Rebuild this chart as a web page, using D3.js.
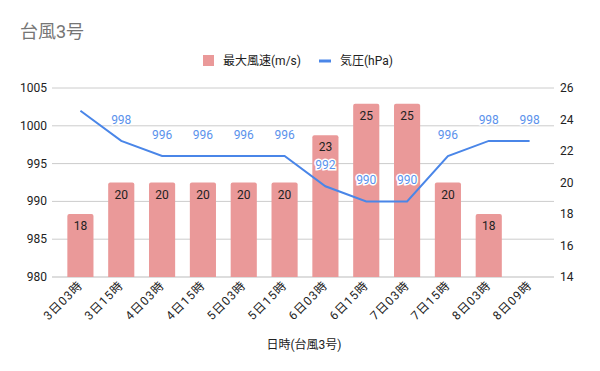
<!DOCTYPE html>
<html>
<head>
<meta charset="utf-8">
<script src="https://cdn.jsdelivr.net/npm/d3@7"></script>
<style>
body { margin: 0; background: #fff; }
text { font-family: Roboto, "Noto Sans CJK JP", sans-serif; }
</style>
</head>
<body>
<svg></svg>
<script>
var width = 600,
    height = 371;
var svg = d3.select("svg")
    .attr("width", width)
    .attr("height", height);

// data
var categories = ["3日03時", "3日15時", "4日03時", "4日15時", "5日03時", "5日15時",
    "6日03時", "6日15時", "7日03時", "7日15時", "8日03時", "8日09時"];
var windSpeed = [18, 20, 20, 20, 20, 20, 23, 25, 25, 20, 18, null];
var pressure = [1002, 998, 996, 996, 996, 996, 992, 990, 990, 996, 998, 998];
var leftTicks = [980, 985, 990, 995, 1000, 1005];
var rightTicks = [14, 16, 18, 20, 22, 24, 26];

var plot = {left: 52, right: 554, top: 88, bottom: 277};

var x = d3.scaleBand()
    .domain(categories)
    .range([60, 550])
    .paddingInner(0.36)
    .paddingOuter(0.18);
var yL = d3.scaleLinear().domain([980, 1005]).range([plot.bottom, plot.top]);
var yR = d3.scaleLinear().domain([14, 26]).range([plot.bottom, plot.top]);

// title
svg.append("text")
    .attr("x", 20).attr("y", 38)
    .attr("font-size", 18)
    .attr("fill", "#757575")
    .text("台風3号");

// grid
svg.append("g").selectAll("line")
    .data(leftTicks)
    .enter().append("line")
    .attr("x1", plot.left).attr("x2", plot.right)
    .attr("y1", d => yL(d)).attr("y2", d => yL(d))
    .attr("stroke", d => d == 980 ? "#bbb" : "#ccc");

// left axis labels
svg.append("g").selectAll("text")
    .data(leftTicks)
    .enter().append("text")
    .attr("x", 47).attr("y", d => yL(d) + 4)
    .attr("text-anchor", "end")
    .attr("font-size", 12).attr("fill", "#222")
    .text(d => d);

// right axis labels
svg.append("g").selectAll("text")
    .data(rightTicks)
    .enter().append("text")
    .attr("x", 560).attr("y", d => yR(d) + 4)
    .attr("font-size", 12).attr("fill", "#222")
    .text(d => d);

// bars (rounded tops)
var bw = x.bandwidth(), r = 2;
svg.append("g").selectAll("path")
    .data(windSpeed.map((v, i) => ({c: categories[i], v: v})).filter(d => d.v != null))
    .enter().append("path")
    .attr("fill", "#ea9999")
    .attr("d", d => {
        var x0 = x(d.c), y0 = yR(d.v), yb = plot.bottom;
        return "M" + x0 + "," + yb + "V" + (y0 + r) + "Q" + x0 + "," + y0 + " " + (x0 + r) + "," + y0 +
            "H" + (x0 + bw - r) + "Q" + (x0 + bw) + "," + y0 + " " + (x0 + bw) + "," + (y0 + r) + "V" + yb + "Z";
    });

// bar labels
svg.append("g").selectAll("text")
    .data(windSpeed.map((v, i) => ({c: categories[i], v: v})).filter(d => d.v != null))
    .enter().append("text")
    .attr("x", d => x(d.c) + bw / 2)
    .attr("y", d => yR(d.v) + 16)
    .attr("text-anchor", "middle")
    .attr("font-size", 12).attr("fill", "#222")
    .text(d => d.v);

// pressure line
var line = d3.line()
    .x((d, i) => x(categories[i]) + bw / 2)
    .y(d => yL(d));
svg.append("path")
    .datum(pressure)
    .attr("d", line)
    .attr("fill", "none")
    .attr("stroke", "#4a86e8")
    .attr("stroke-width", 2);

// pressure labels (first one hidden in the original)
svg.append("g").selectAll("text")
    .data(pressure.map((v, i) => ({c: categories[i], v: v, i: i})).filter(d => d.i > 0))
    .enter().append("text")
    .attr("x", d => x(d.c) + bw / 2)
    .attr("y", d => yL(d.v) - 17)
    .attr("text-anchor", "middle")
    .attr("font-size", 12)
    .attr("fill", "#5b92ec")
    .attr("stroke", "#fff").attr("stroke-width", 3)
    .attr("paint-order", "stroke")
    .text(d => d.v);

// x labels
svg.append("g").selectAll("text")
    .data(categories)
    .enter().append("text")
    .attr("transform", d => "translate(" + (x(d) + bw / 2 + 3) + "," + (plot.bottom + 9) + ") rotate(-45)")
    .attr("text-anchor", "end")
    .attr("font-size", 12).attr("letter-spacing", 1).attr("fill", "#222")
    .text(d => d);

// x axis title
svg.append("text")
    .attr("x", 304).attr("y", 349)
    .attr("text-anchor", "middle")
    .attr("font-size", 12).attr("fill", "#222")
    .text("日時(台風3号)");

// legend
var lg = svg.append("g");
lg.append("rect").attr("x", 203).attr("y", 55).attr("width", 11).attr("height", 11).attr("fill", "#ea9999");
lg.append("text").attr("x", 223).attr("y", 65).attr("font-size", 12).attr("fill", "#222").text("最大風速(m/s)");
lg.append("line").attr("x1", 319).attr("x2", 331).attr("y1", 61).attr("y2", 61)
    .attr("stroke", "#4a86e8").attr("stroke-width", 3);
lg.append("text").attr("x", 340).attr("y", 65).attr("font-size", 12).attr("fill", "#222").text("気圧(hPa)");
</script>
</body>
</html>
